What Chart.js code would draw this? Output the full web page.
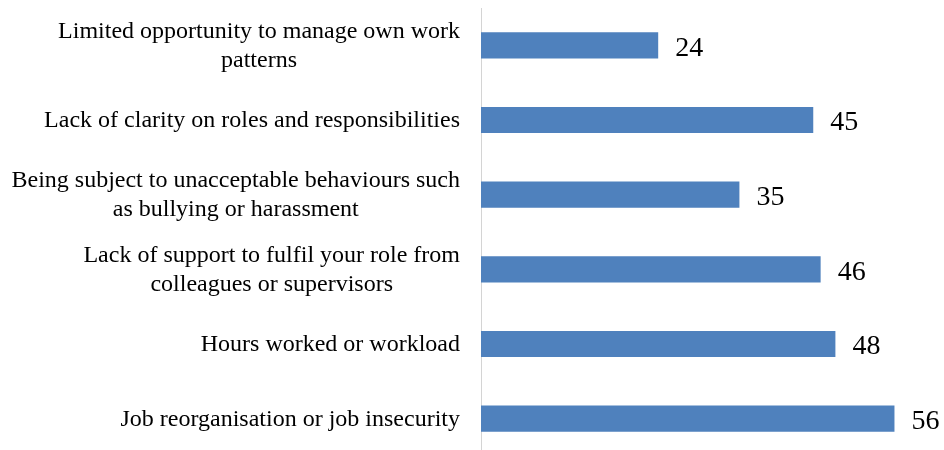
<!DOCTYPE html>
<html>
<head>
<meta charset="utf-8">
<script src="https://cdn.jsdelivr.net/npm/chart.js@4/dist/chart.umd.min.js"></script>
<style>
  html, body { margin: 0; padding: 0; background: #fff; overflow: hidden; }
  #wrap { position: relative; width: 944px; height: 456px; }
</style>
</head>
<body>
<div id="wrap"><canvas id="myChart"></canvas></div>
<script>
// work stress causes, number of responses
const categories = [
  ['Limited opportunity to manage own work', 'patterns'],
  'Lack of clarity on roles and responsibilities',
  ['Being subject to unacceptable behaviours such', 'as bullying or harassment'],
  ['Lack of support to fulfil your role from', 'colleagues or supervisors'],
  'Hours worked or workload',
  'Job reorganisation or job insecurity'
];
const responses = [24, 45, 35, 46, 48, 56];

const serif = '"Liberation Serif", "Times New Roman", serif';
const labelRight = 460;
const lineGap = 29;

// category names: each block right-aligned to the axis, lines centred inside it
const categoryLabels = {
  id: 'categoryLabels',
  afterDraw(chart) {
    const ctx = chart.ctx;
    const yScale = chart.scales.y;
    ctx.save();
    ctx.font = '24px ' + serif;
    ctx.fillStyle = '#000';
    ctx.textAlign = 'center';
    ctx.textBaseline = 'middle';
    categories.forEach((label, i) => {
      const lines = Array.isArray(label) ? label : [label];
      const blockW = Math.max(...lines.map(l => ctx.measureText(l).width));
      const cx = labelRight - blockW / 2;
      const y0 = yScale.getPixelForTick(i) - (lines.length - 1) * lineGap / 2 + 1;
      lines.forEach((l, j) => ctx.fillText(l, cx, y0 + j * lineGap));
    });
    ctx.restore();
  }
};

// writes the count just past the end of each bar
const valueLabels = {
  id: 'valueLabels',
  afterDatasetsDraw(chart) {
    const ctx = chart.ctx;
    const meta = chart.getDatasetMeta(0);
    ctx.save();
    ctx.font = '28px ' + serif;
    ctx.fillStyle = '#000';
    ctx.textAlign = 'left';
    ctx.textBaseline = 'middle';
    meta.data.forEach((bar, i) => {
      ctx.fillText(String(responses[i]), bar.x + 17, bar.y + 3);
    });
    ctx.restore();
  }
};

const ctx = document.getElementById('myChart').getContext('2d');
new Chart(ctx, {
  type: 'bar',
  data: {
    labels: categories,
    datasets: [{
      data: responses,
      backgroundColor: '#4f81bd',
      borderWidth: 0,
      barPercentage: 0.35,
      categoryPercentage: 1
    }]
  },
  options: {
    indexAxis: 'y',
    responsive: true,
    maintainAspectRatio: false,
    animation: false,
    layout: { padding: { top: 8, right: 20, left: 0, bottom: 0 } },
    plugins: {
      legend: { display: false },
      tooltip: { enabled: false }
    },
    scales: {
      x: {
        display: false,
        min: 0,
        max: 60
      },
      y: {
        afterFit: (scale) => {
          scale.width = 481;
          scale.paddingTop = 0;
          scale.paddingBottom = 0;
        },
        grid: { display: false, drawTicks: false },
        border: { display: true, color: '#d4d4d4', width: 1 },
        ticks: { display: false }
      }
    }
  },
  plugins: [categoryLabels, valueLabels]
});
</script>
</body>
</html>
